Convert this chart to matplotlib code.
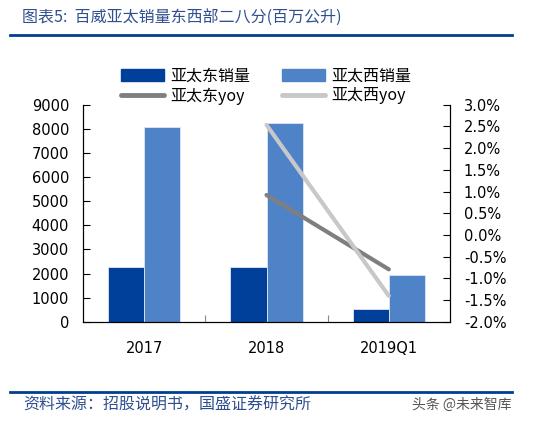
import matplotlib.pyplot as plt
import numpy as np
from matplotlib.patches import Patch
from matplotlib.lines import Line2D

plt.rcParams['font.family'] = ['Noto Sans CJK SC', 'DejaVu Sans']

categories = ['2017', '2018', '2019Q1']
east_sales = [2270, 2270, 550]
west_sales = [8060, 8220, 1930]
yoy_cats = ['2018', '2019Q1']
east_yoy = [0.92, -0.79]
west_yoy = [2.53, -1.40]

dark_blue = '#00409A'
light_blue = '#4F83C8'
c_east_yoy = '#7F7F7F'
c_west_yoy = '#C8C8C8'

fig = plt.figure(figsize=(5.43, 4.24), dpi=100)
ax = fig.add_axes([0.1529, 0.2406, 0.6758, 0.5129])
ax2 = ax.twinx()

x = np.arange(len(categories))
w = 0.295
ax.bar(x - w/2, east_sales, w, color=dark_blue, edgecolor='#E0E6F0', lw=0.6, zorder=2)
ax.bar(x + w/2, west_sales, w, color=light_blue, edgecolor='#E0E6F0', lw=0.6, zorder=2)
ax.set_xlim(-0.5, 2.5)
ax.set_ylim(0, 9000)
ax.set_yticks(np.arange(0, 9001, 1000))

xi = [categories.index(c) for c in yoy_cats]
ax2.plot(xi, east_yoy, color=c_east_yoy, lw=3, solid_capstyle='round')
ax2.plot(xi, west_yoy, color=c_west_yoy, lw=3, solid_capstyle='round')
ax2.set_ylim(-2, 3)
ax2.set_yticks(np.arange(-2, 3.01, 0.5))
ax2.set_yticklabels(['%.1f%%' % v for v in np.arange(-2, 3.01, 0.5)])

# category ticks between groups
ax.set_xticks([0.5, 1.5])
ax.set_xticklabels([])
ax.set_xticks(x, minor=True)
ax.set_xticklabels(categories, minor=True, fontsize=10.5, family='DejaVu Sans')
ax.tick_params(axis='x', which='minor', length=0, pad=14)
ax.tick_params(axis='x', which='major', direction='in', length=5, color='#888888')
ax.tick_params(axis='y', direction='in', length=5, labelsize=10.5, pad=10)
ax2.tick_params(axis='y', direction='in', length=5, labelsize=10.5, pad=10)
for a in (ax, ax2):
    a.spines['top'].set_visible(False)
for lab in ax.get_yticklabels() + ax2.get_yticklabels():
    lab.set_family('DejaVu Sans')

handles = [Patch(color=dark_blue), Line2D([], [], color=c_east_yoy, lw=3.5, solid_capstyle='round'),
           Patch(color=light_blue), Line2D([], [], color=c_west_yoy, lw=3.5, solid_capstyle='round')]
labels = ['亚太东销量', '亚太东yoy', '亚太西销量', '亚太西yoy']
fig.legend(handles, labels, ncol=2, loc='center', bbox_to_anchor=(0.49, 1 - 86/424),
           frameon=False, fontsize=11.5, handlelength=2.7, handleheight=0.75,
           columnspacing=2.0, labelspacing=0.2, handletextpad=0.4)

# header and footer
fig.text(22/543, 1 - 18/424, '图表5:  百威亚太销量东西部二八分(百万公升)', fontsize=11.5,
         color='#2F4F8F', style='italic', va='center', ha='left')
fig.add_artist(Line2D([10/543, 512/543], [1 - 35/424, 1 - 35/424], color='#003E92', lw=2))
fig.add_artist(Line2D([10/543, 512/543], [1 - 392/424, 1 - 392/424], color='#003E92', lw=2))
fig.text(23/543, 1 - 405/424, '资料来源：招股说明书，国盛证券研究所', fontsize=11.5,
         color='#2F4F8F', style='italic', va='center', ha='left')
fig.text(511/543, 1 - 405/424, '头条 @未来智库', fontsize=10, color='#555555',
         va='center', ha='right')

fig.savefig('out.png', dpi=100)
